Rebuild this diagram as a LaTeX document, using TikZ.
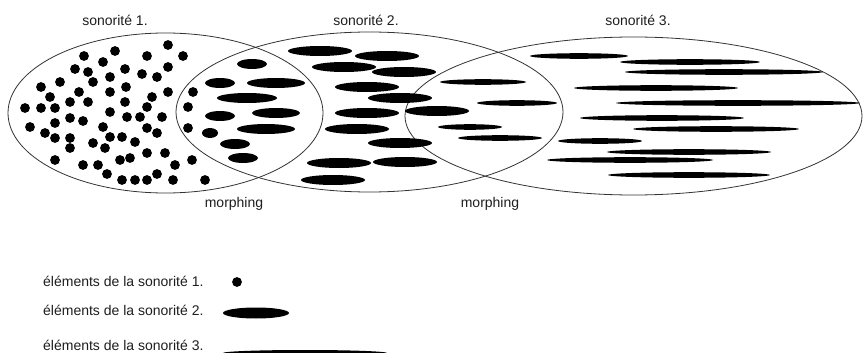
\documentclass[tikz,border=0pt]{standalone}
\usepackage{fontspec}
\setmainfont{Liberation Sans}
\definecolor{txt}{HTML}{1E1E1E}
\definecolor{outl}{HTML}{333333}
\begin{document}
\begin{tikzpicture}[x=1pt,y=-1pt,
  lbl/.style={font=\fontsize{14}{16}\selectfont, text=txt, inner sep=0pt},
  zone/.style={draw=outl, line width=0.8pt},
  blob/.style={fill=black}]
\useasboundingbox (0,0) rectangle (863,353);
\fill[white] (0,0) rectangle (863,353);

% zones
\draw[zone] (165.5,113) ellipse [x radius=157.5, y radius=80];
\draw[zone] (369.5,112) ellipse [x radius=193.5, y radius=80];
\draw[zone] (633.5,116) ellipse [x radius=228.5, y radius=79];

% elements of sonority 1
\foreach \x/\y in {168/45,115/51,183/56,84/56,147/56,103/62,168/67,75/69,125/69,88/72,
  142/74,110/77,157/77,60/82,93/82,41/87,126/87,110/92,79/92,168/92,193/92,50/97,152/97,
  70/102,88/102,125/102,25/108,41/108,55/108,147/107,188/107,110/112,70/118,127/117,140/117,
  162/117,83/121,55/123,30/127,103/127,147/128,188/128,45/133,157/133,55/138,70/138,110/137,
  122/137,93/143,135/142,70/148,105/148,147/153,165/153,120/160,130/158,55/160,192/160,
  83/165,98/165,175/165,107/174,122/180,135/180,147/180,157/174,173/180,205/180}
  \fill[blob] (\x,\y) circle [radius=4.9];

% elements of sonority 2
\foreach \x/\y/\r in {252/64/15,220/83/15,276/83/29,247/98/30,220/116/15,276/113/24,
  266/129/29,210/133/8,235/144/15,243/158/15,320/51/32,387/56/32,344/67/32,404/72/32,
  367/87/32,400/98/32,437/111/32,367/113/32,357/129/32,400/143/32,339/163/32,405/162/32,
  333/180/32}
  \fill[blob] (\x,\y) ellipse [x radius=\r, y radius=5];

% elements of sonority 3
\foreach \x/\y/\r in {483/82/43,517/103/40,470/127/32,500/138/42,579/56/49,690/62/70,
  724/72/99,656/88/82,738/103/122,662/118/82,716/129/83,600/141/42,689/152/82,630/160/83,
  689/175/81}
  \fill[blob] (\x,\y) ellipse [x radius=\r, y radius=2.8];

% labels
\node[lbl, anchor=base] (s1) at (115,26) {sonorité 1.};
\node[lbl, anchor=base] (s2) at (366,26) {sonorité 2.};
\node[lbl, anchor=base] (s3) at (638,26) {sonorité 3.};
\node[lbl, anchor=base] (m1) at (234,207) {morphing};
\node[lbl, anchor=base] (m2) at (490,207) {morphing};

% legend
\node[lbl, anchor=base west] (l1) at (43,286) {éléments de la sonorité 1.};
\node[lbl, anchor=base west] (l2) at (43,315) {éléments de la sonorité 2.};
\node[lbl, anchor=base west] (l3) at (43,350) {éléments de la sonorité 3.};
\fill[blob] (237,282) circle [radius=4.9];
\fill[blob] (256,313) ellipse [x radius=33, y radius=5.5];
\fill[blob] (305,353) ellipse [x radius=82, y radius=3];
\end{tikzpicture}
\end{document}
